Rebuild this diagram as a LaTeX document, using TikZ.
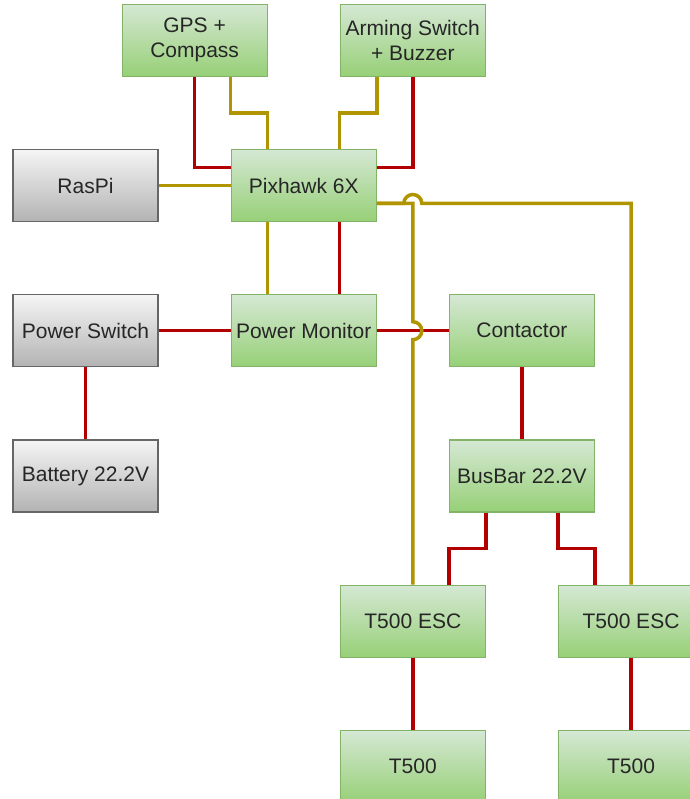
\documentclass[tikz,border=0pt]{standalone}
\usepackage{fontspec}
\setmainfont{Liberation Sans}
\usetikzlibrary{positioning}
\definecolor{leaftop}{HTML}{D5E8D4}
\definecolor{leafbot}{HTML}{97D077}
\definecolor{leafedge}{HTML}{82B366}
\definecolor{greytop}{HTML}{F5F5F5}
\definecolor{greybot}{HTML}{B3B3B3}
\definecolor{greyedge}{HTML}{666666}
\definecolor{wirered}{HTML}{B20000}
\definecolor{wiregold}{HTML}{B09500}

\begin{document}
\begin{tikzpicture}[x=1pt, y=1pt, node distance=72pt,
    box/.style={rectangle, draw=leafedge, top color=leaftop, bottom color=leafbot, line width=1.2pt, minimum width=145pt, minimum height=72pt, inner sep=2pt, align=center, text=black!85, font=\fontsize{21}{25}\selectfont},
    greybox/.style={box, draw=greyedge, top color=greytop, bottom color=greybot},
    power/.style={draw=wirered, line width=3.5pt},
    signal/.style={draw=wiregold, line width=3.5pt}]

\useasboundingbox (0,0) rectangle (689,-799);

\node [greybox] (raspi) at (85.5,-185.5) {RasPi};
\node [box, right=of raspi] (pix) {Pixhawk 6X};
\node [box, above left=72pt and 36pt of pix.north] (gps) {GPS +\\Compass};
\node [box, above right=72pt and 36pt of pix.north] (arm) {Arming Switch\\+ Buzzer};
\node [box, below=of pix] (pmon) {Power Monitor};
\node [greybox, below=of raspi] (pswitch) {Power Switch};
\node [greybox, below=of pswitch] (batt) {Battery 22.2V};
\node [box, right=of pmon] (cont) {Contactor};
\node [box, below=of cont] (bus) {BusBar 22.2V};
\node [box, below left=72pt and 36pt of bus.south] (escl) {T500 ESC};
\node [box, below right=72pt and 36pt of bus.south] (escr) {T500 ESC};
\node [box, below=of escl] (motl) {T500};
\node [box, below=of escr] (motr) {T500};

\coordinate (tap) at ([yshift=-18pt]pix.east);
\coordinate (hopa) at (escl.north |- tap);
\coordinate (hopb) at (escl.north |- pmon.east);

\draw [power] (gps.south) |- ([yshift=18pt]pix.west);
\draw [signal] ([xshift=36pt]gps.south) -- ++(0,-36) -| ([xshift=-36pt]pix.north);
\draw [signal] ([xshift=-36pt]arm.south) -- ++(0,-36) -| ([xshift=36pt]pix.north);
\draw [power] (arm.south) |- ([yshift=18pt]pix.east);
\draw [signal] (raspi) -- (pix);
\draw [signal] ([xshift=-36pt]pix.south) -- ([xshift=-36pt]pmon.north);
\draw [power] ([xshift=36pt]pix.south) -- ([xshift=36pt]pmon.north);
\draw [power] (pswitch) -- (pmon);
\draw [power] (pswitch) -- (batt);
\draw [power] (pmon) -- (cont);
\draw [power] (cont) -- (bus);
\draw [power] ([xshift=-36pt]bus.south) -- ++(0,-36) -| ([xshift=36pt]escl.north);
\draw [power] ([xshift=36pt]bus.south) -- ++(0,-36) -| ([xshift=-36pt]escr.north);
\draw [power] (escl) -- (motl);
\draw [power] (escr) -- (motr);

\draw [signal] (tap) -| ([yshift=9pt]hopb) arc[start angle=90, end angle=-90, radius=9pt] -- (escl.north);
\draw [signal] (tap) -- ([xshift=-9pt]hopa) arc[start angle=180, end angle=0, radius=9pt] -| (escr.north);

\end{tikzpicture}
\end{document}
